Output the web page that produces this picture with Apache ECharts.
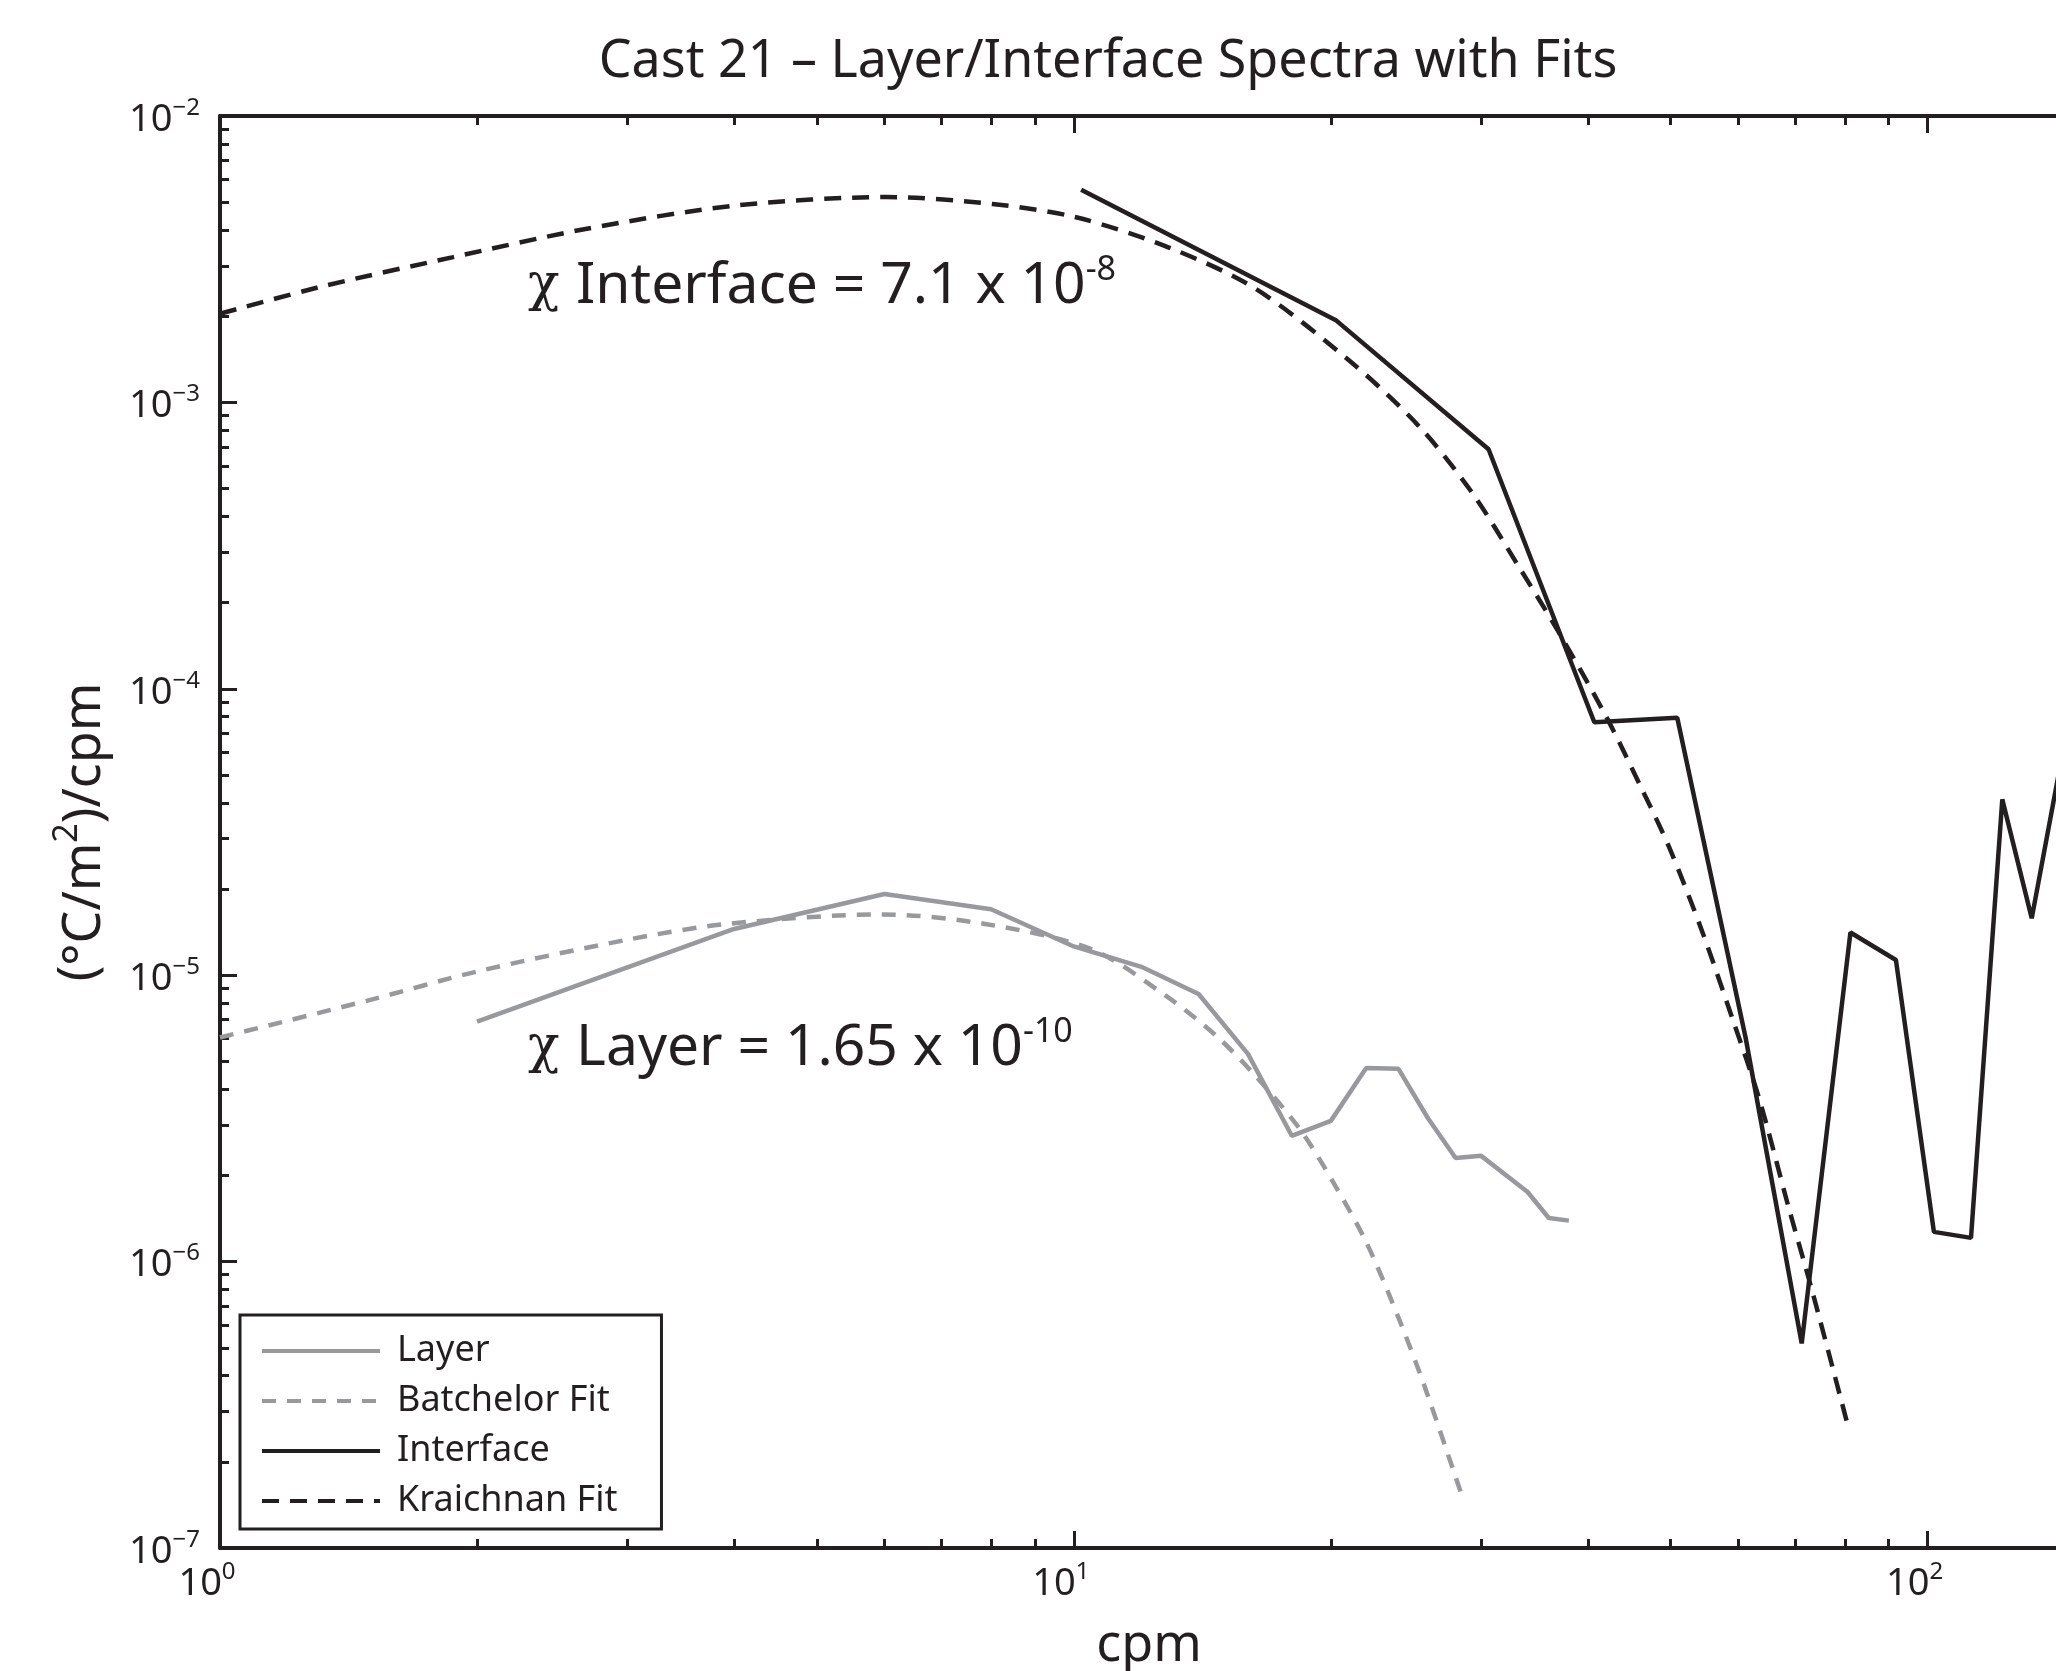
<!DOCTYPE html>
<html>
<head>
<meta charset="utf-8">
<title>Cast 21 – Layer/Interface Spectra with Fits</title>
<script src="https://cdn.jsdelivr.net/npm/echarts@6/dist/echarts.min.js"></script>
<style>
html, body { margin: 0; padding: 0; background: #fff; }
#chart { width: 2056px; height: 1671px; }
</style>
</head>
<body>
<div id="chart"></div>
<script>
// values: x in cpm, y in (°C/m²)/cpm
var layerCpm  = [2, 4, 6, 8, 10, 12, 14, 16, 18, 20, 22, 24, 26, 28, 30, 34, 36, 38];
var layerSpec = [6.88e-6, 1.45e-5, 1.92e-5, 1.70e-5, 1.26e-5, 1.07e-5, 8.6e-6, 5.3e-6, 2.75e-6,
                 3.1e-6, 4.74e-6, 4.71e-6, 3.16e-6, 2.30e-6, 2.34e-6, 1.75e-6, 1.42e-6, 1.39e-6];

var batchelorCpm  = [1, 1.5, 2, 3, 3.92, 5.97, 7.87, 10.5, 12.8, 14.7, 16.3, 18.4, 20.1, 22, 24.1, 25.8, 28.4];
var batchelorSpec = [6.06e-6, 8.2e-6, 1.03e-5, 1.33e-5, 1.51e-5, 1.63e-5, 1.51e-5, 1.23e-5, 8.5e-6,
                     6.12e-6, 4.47e-6, 2.90e-6, 1.905e-6, 1.17e-6, 6.18e-7, 3.61e-7, 1.56e-7];

var interfaceCpm  = [10.2, 20.3, 30.6, 40.7, 50.9, 61.2, 71.2, 81.2, 91.8, 101.7, 112.4, 122.3, 132.4, 143];
var interfaceSpec = [5.53e-3, 1.93e-3, 6.86e-4, 7.64e-5, 7.92e-5, 6.06e-6, 5.18e-7, 1.41e-5, 1.13e-5,
                     1.27e-6, 1.21e-6, 4.11e-5, 1.58e-5, 5.4e-5];

var kraichnanCpm  = [1, 1.31, 1.87, 2.69, 4.02, 6.03, 8.03, 10.06, 12.9, 16.3, 21.2, 25.4, 29.3,
                     33.2, 37.0, 42.0, 46.3, 49.8, 54.4, 59.1, 63.5, 68.8, 73.3, 80.9];
var kraichnanSpec = [2.04e-3, 2.53e-3, 3.21e-3, 4.04e-3, 4.87e-3, 5.21e-3, 4.93e-3, 4.43e-3, 3.48e-3,
                     2.50e-3, 1.37e-3, 8.22e-4, 4.82e-4, 2.67e-4, 1.57e-4, 8.02e-5, 4.45e-5, 2.8e-5,
                     1.43e-5, 7.02e-6, 3.70e-6, 1.53e-6, 7.83e-7, 2.58e-7];

// ticks
var xMajor = [1, 10, 100];
var yMajor = [1e-7, 1e-6, 1e-5, 1e-4, 1e-3, 1e-2];
var minorSteps = [2, 3, 4, 5, 6, 7, 8, 9];

var xMinor = [], yMinor = [];
xMajor.forEach(function (d) { minorSteps.forEach(function (m) { xMinor.push(m * d); }); });
yMajor.forEach(function (d) { minorSteps.forEach(function (m) { yMinor.push(m * d); }); });

var ink = '#231f20';
var gray = '#98999c';
var font = 'Noto Sans';

function pairs(xs, ys) {
  return xs.map(function (x, i) { return [x, ys[i]]; });
}

var labelRich = {
  b: { fontSize: 38, fontFamily: font, color: ink, lineHeight: 40, padding: [8, 0, 0, 0] },
  s: { fontSize: 24, fontFamily: font, color: ink, lineHeight: 26, verticalAlign: 'top' }
};

function powLabel(v) {
  var e = Math.round(Math.log10(v));
  return '{b|10}{s|' + (e < 0 ? '\u2212' + (-e) : e) + '}';
}

// one axis per tick family (major / minor), MATLAB style ticks pointing inward
function xAxisOf(pos, ticks, len, withLine, withLabel) {
  return {
    type: 'log', logBase: 10, position: pos, min: 1, max: 150,
    axisLine: { show: withLine, onZero: false, lineStyle: { color: ink, width: 4 } },
    axisTick: { show: true, inside: true, length: len, customValues: ticks, lineStyle: { color: ink, width: 3 } },
    axisLabel: withLabel ? {
      show: true, customValues: xMajor, margin: 12, align: 'center', padding: [0, 26, 0, 0],
      formatter: powLabel, rich: labelRich
    } : { show: false },
    splitLine: { show: false },
    minorTick: { show: false }
  };
}

function yAxisOf(ticks, len, withLine, withLabel) {
  return {
    type: 'log', logBase: 10, position: 'left', min: 1e-7, max: 1e-2,
    axisLine: { show: withLine, onZero: false, lineStyle: { color: ink, width: 4 } },
    axisTick: { show: true, inside: true, length: len, customValues: ticks, lineStyle: { color: ink, width: 3 } },
    axisLabel: withLabel ? {
      show: true, customValues: yMajor, margin: 20,
      formatter: powLabel, rich: labelRich
    } : { show: false },
    splitLine: { show: false },
    minorTick: { show: false }
  };
}

var xAxes = [
  xAxisOf('bottom', xMajor, 17, true, true),
  xAxisOf('bottom', xMinor, 9, false, false),
  xAxisOf('top', xMajor, 17, true, false),
  xAxisOf('top', xMinor, 9, false, false)
];
xAxes[0].name = 'cpm';
xAxes[0].nameLocation = 'middle';
xAxes[0].nameGap = 72;
xAxes[0].nameTextStyle = { fontSize: 52, fontFamily: font, color: ink };

var yAxes = [
  yAxisOf(yMajor, 17, true, true),
  yAxisOf(yMinor, 9, false, false)
];
yAxes[0].name = '({n|°C/m}{s|2}{n|)/cpm}';
yAxes[0].nameLocation = 'middle';
yAxes[0].nameGap = 110;
yAxes[0].nameTextStyle = {
  fontSize: 52, fontFamily: font, color: ink,
  rich: {
    n: { fontSize: 52, fontFamily: font, color: ink, lineHeight: 60, padding: [10, 0, 0, 0] },
    s: { fontSize: 34, fontFamily: font, color: ink, lineHeight: 36, verticalAlign: 'top' }
  }
};

var noteRich = {
  c: { fontSize: 52, fontFamily: 'DejaVu Serif', fill: ink, lineHeight: 60, padding: [7, 0, 0, 0] },
  a: { fontSize: 57, fontFamily: font, fill: ink, lineHeight: 60, padding: [7, 0, 0, 0] },
  s: { fontSize: 34, fontFamily: font, fill: ink, lineHeight: 36, verticalAlign: 'top' }
};

var chart = echarts.init(document.getElementById('chart'));

chart.setOption({
  backgroundColor: '#fff',
  animation: false,
  grid: { left: 220, top: 116, width: 1858, height: 1432, outerBoundsMode: 'none', containLabel: false },
  xAxis: xAxes,
  yAxis: yAxes,
  legend: {
    data: ['Layer', 'Batchelor Fit', 'Interface', 'Kraichnan Fit'],
    orient: 'vertical', left: 240, top: 1315,
    padding: [18, 44, 10, 20],
    itemWidth: 118, itemHeight: 32, itemGap: 14,
    borderColor: ink, borderWidth: 3, backgroundColor: '#fff',
    itemStyle: { color: 'rgba(0,0,0,0)', borderWidth: 0, opacity: 0 },
    lineStyle: { width: 4 },
    textStyle: { fontSize: 36, lineHeight: 32, fontFamily: font, color: ink, padding: [0, 0, 0, 12] }
  },
  graphic: [
    {
      type: 'text', x: 1108, y: 62,
      style: { text: 'Cast 21 \u2013 Layer/Interface Spectra with Fits', align: 'center', verticalAlign: 'middle',
               fontSize: 52, fontFamily: font, fill: ink }
    },
    {
      type: 'text', x: 528, y: 283, z: 10,
      style: { text: '{c|\u03c7 }{a|Interface = 7.1 x 10}{s|-8}', align: 'left', verticalAlign: 'middle', rich: noteRich }
    },
    {
      type: 'text', x: 528, y: 1045, z: 10,
      style: { text: '{c|\u03c7 }{a|Layer = 1.65 x 10}{s|-10}', align: 'left', verticalAlign: 'middle', rich: noteRich }
    }
  ],
  series: [
    {
      name: 'Layer', type: 'line', data: pairs(layerCpm, layerSpec),
      symbol: 'none', color: gray, lineStyle: { color: gray, width: 4.5 }
    },
    {
      name: 'Batchelor Fit', type: 'line', data: pairs(batchelorCpm, batchelorSpec), smooth: 0.3,
      symbol: 'none', color: gray, lineStyle: { color: gray, width: 4.5, type: [14, 11] }
    },
    {
      name: 'Interface', type: 'line', data: pairs(interfaceCpm, interfaceSpec),
      symbol: 'none', color: ink, lineStyle: { color: ink, width: 4.5 }
    },
    {
      name: 'Kraichnan Fit', type: 'line', data: pairs(kraichnanCpm, kraichnanSpec), smooth: 0.3,
      symbol: 'none', color: ink, lineStyle: { color: ink, width: 4.5, type: [17, 11] }
    }
  ]
});
</script>
</body>
</html>
